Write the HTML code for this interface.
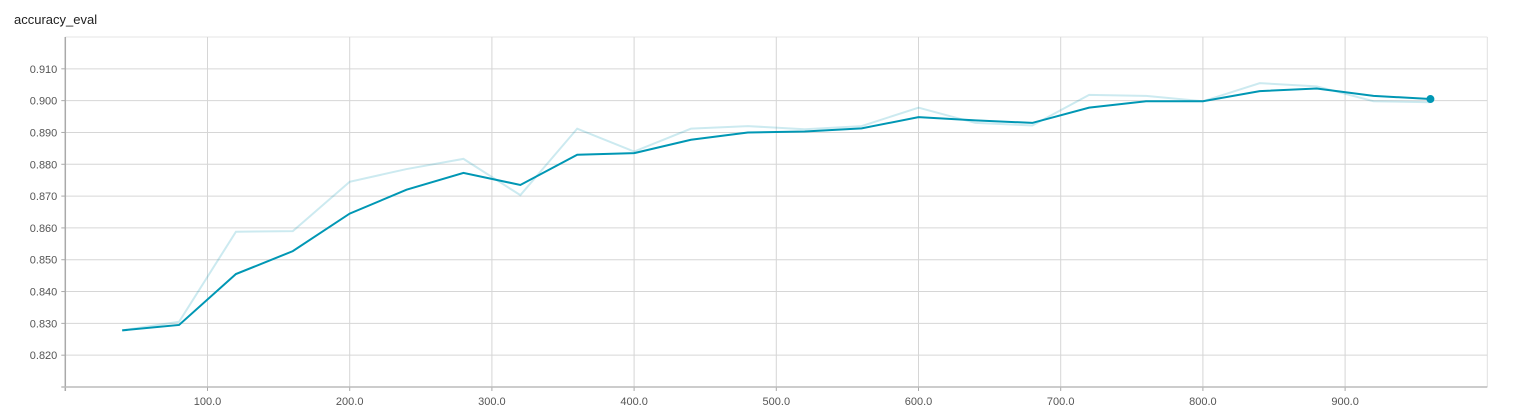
<!DOCTYPE html>
<html><head><meta charset="utf-8"><style>
body{margin:0;background:#fff;width:1518px;height:412px;overflow:hidden;font-family:"Liberation Sans",sans-serif}
</style></head><body>
<svg width="1518" height="412" id="c">
<text x="14" y="24" font-size="13" fill="#212121">accuracy_eval</text>
</svg>
<script>
const steps=[40,80,120,160,200,240,280,320,360,400,440,480,520,560,600,640,680,720,760,800,840,880,920,960];
const rawAcc=[0.8278,0.8305,0.8588,0.8590,0.8745,0.8785,0.8817,0.8703,0.8912,0.8840,0.8912,0.8920,0.8910,0.8920,0.8978,0.8930,0.8922,0.9018,0.9015,0.8998,0.9055,0.9045,0.8998,0.8995];
const smoothAcc=[0.8278,0.8295,0.8455,0.8527,0.8645,0.8720,0.8773,0.8735,0.8830,0.8835,0.8877,0.8900,0.8903,0.8913,0.8948,0.8938,0.8930,0.8978,0.8998,0.8998,0.9030,0.9038,0.9015,0.9005];
const xTicks=[100,200,300,400,500,600,700,800,900];
const yTicks=[0.82,0.83,0.84,0.85,0.86,0.87,0.88,0.89,0.90,0.91];
const L=65.3,R=1487.3,T=37,B=387;
const xs=v=>L+(v-0)/1000*(R-L);
const ys=v=>B-(v-0.81)/0.11*(B-T);
const svg=document.getElementById('c');const NS='http://www.w3.org/2000/svg';
function mk(t,a){const e=document.createElementNS(NS,t);for(const k in a)e.setAttribute(k,a[k]);svg.appendChild(e);return e;}
let e=mk('line',{x1:L,x2:R,y1:T,y2:T,stroke:'#e6e6e6','stroke-width':1});


e=mk('line',{x1:R,x2:R,y1:T,y2:B,stroke:'#e0e0e0','stroke-width':1});


yTicks.forEach(v=>{const y=ys(v);
 let g=mk('line',{x1:L,x2:R,y1:y,y2:y,stroke:'#d6d6d6','stroke-width':1});
 
 
 let t=mk('line',{x1:L-4,x2:L,y1:y,y2:y,stroke:'#aaa'});
 
 
 let l=mk('text',{x:L-8,y:y+4,'text-anchor':'end','font-size':'11',fill:'#555'});l.textContent=v.toFixed(3);
 
 
});
xTicks.forEach(v=>{const x=xs(v);
 let g=mk('line',{x1:x,x2:x,y1:T,y2:B,stroke:'#d6d6d6','stroke-width':1});
 
 
 let t=mk('line',{x1:x,x2:x,y1:B,y2:B+4,stroke:'#aaa'});
 
 
 let l=mk('text',{x:x,y:B+18,'text-anchor':'middle','font-size':'11',fill:'#555'});l.textContent=v.toFixed(1);
 
 
});
e=mk('line',{x1:L,x2:L,y1:T,y2:B+4,stroke:'#aaa','stroke-width':1.5});


e=mk('line',{x1:L-4,x2:R,y1:B,y2:B,stroke:'#bbb','stroke-width':1.5});


const pts=a=>a.map((v,i)=>xs(steps[i])+','+ys(v)).join(' ');
e=mk('polyline',{points:pts(rawAcc),fill:'none',stroke:'#0097b4','stroke-opacity':0.2,'stroke-width':2});


e=mk('polyline',{points:pts(smoothAcc),fill:'none',stroke:'#0097b4','stroke-width':2});


const n=steps.length-1;
e=mk('circle',{cx:xs(steps[n]),cy:ys(smoothAcc[n]),r:4,fill:'#0097b4'});


</script>
</body></html>
